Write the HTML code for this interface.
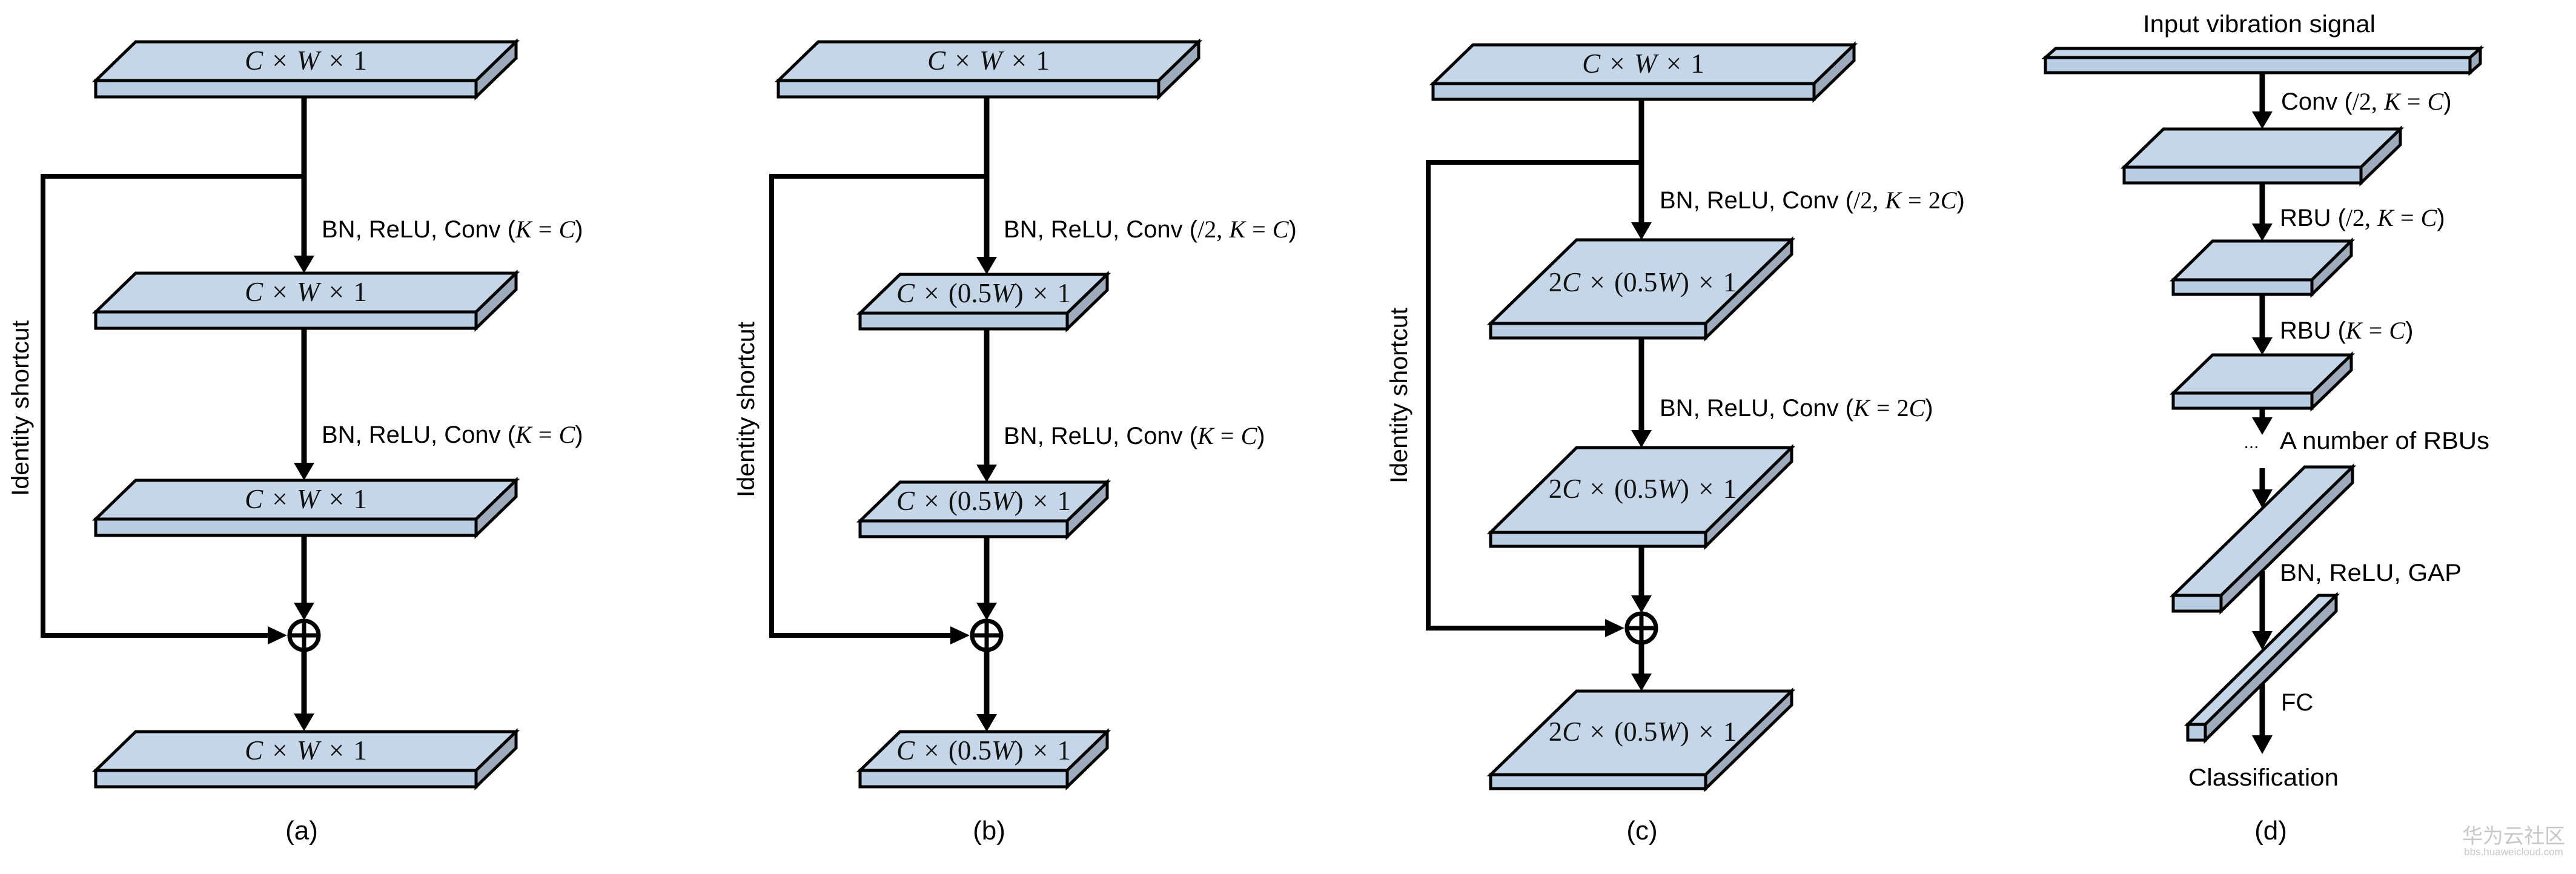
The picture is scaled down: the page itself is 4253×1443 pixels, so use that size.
<!DOCTYPE html>
<html><head><meta charset="utf-8">
<style>
html,body{margin:0;padding:0;background:#fff;}
svg{display:block;}
.t{font-family:"Liberation Sans",sans-serif;font-size:40px;fill:#000;}
.m{font-family:"Liberation Serif",serif;font-style:italic;}
.n{font-family:"Liberation Serif",serif;}
.bx{font-family:"Liberation Serif",serif;font-size:45px;fill:#111;word-spacing:4px;}
.top{fill:#c5d6e8;stroke:#000;stroke-width:5;stroke-linejoin:miter;}
.front{fill:#b9cde3;stroke:#000;stroke-width:5;}
.side{fill:#9eabbd;stroke:#000;stroke-width:5;stroke-linejoin:miter;}
.ln{stroke:#000;stroke-width:9;fill:none;}
.sc{stroke:#000;stroke-width:8;fill:none;stroke-linejoin:miter;}
</style></head>
<body>
<svg width="4253" height="1443" viewBox="0 0 4253 1443" xmlns="http://www.w3.org/2000/svg">

<!-- ===== Panel (a) ===== -->
<polyline class="sc" points="502,291 71,291 71,1049 450,1049"/>
<polygon points="474,1049 442,1034 442,1064" fill="#000"/>
<line class="ln" x1="502" y1="160" x2="502" y2="425"/>
<polygon points="502,451 485,422 519,422" fill="#000"/>
<line class="ln" x1="502" y1="543" x2="502" y2="767"/>
<polygon points="502,793 485,764 519,764" fill="#000"/>
<line class="ln" x1="502" y1="883" x2="502" y2="998"/>
<polygon points="502,1024 485,995 519,995" fill="#000"/>
<line class="ln" x1="502" y1="1076" x2="502" y2="1181"/>
<polygon points="502,1207 485,1178 519,1178" fill="#000"/>
<circle cx="502" cy="1049" r="24" fill="none" stroke="#000" stroke-width="7"/>
<line x1="502" y1="1025" x2="502" y2="1073" stroke="#000" stroke-width="7"/>
<line x1="478" y1="1049" x2="526" y2="1049" stroke="#000" stroke-width="7"/>
<g>
<polygon class="top" points="158,133 786,133 852,69 224,69"/><rect class="front" x="158" y="133" width="628" height="27"/><polygon class="side" points="786,133 852,69 852,96 786,160"/>
<text class="bx" x="505" y="115" text-anchor="middle"><tspan class="m">C</tspan> × <tspan class="m">W</tspan> × 1</text>
</g>
<g>
<polygon class="top" points="158,515 786,515 852,451 224,451"/><rect class="front" x="158" y="515" width="628" height="27"/><polygon class="side" points="786,515 852,451 852,478 786,542"/>
<text class="bx" x="505" y="497" text-anchor="middle"><tspan class="m">C</tspan> × <tspan class="m">W</tspan> × 1</text>
</g>
<g>
<polygon class="top" points="158,857 786,857 852,793 224,793"/><rect class="front" x="158" y="857" width="628" height="27"/><polygon class="side" points="786,857 852,793 852,820 786,884"/>
<text class="bx" x="505" y="839" text-anchor="middle"><tspan class="m">C</tspan> × <tspan class="m">W</tspan> × 1</text>
</g>
<g>
<polygon class="top" points="158,1272 786,1272 852,1208 224,1208"/><rect class="front" x="158" y="1272" width="628" height="27"/><polygon class="side" points="786,1272 852,1208 852,1235 786,1299"/>
<text class="bx" x="505" y="1254" text-anchor="middle"><tspan class="m">C</tspan> × <tspan class="m">W</tspan> × 1</text>
</g>
<text class="t" x="531" y="392">BN, ReLU, Conv (<tspan class="m">K</tspan>  <tspan class="n">=</tspan>  <tspan class="m">C</tspan>)</text>
<text class="t" x="531" y="731">BN, ReLU, Conv (<tspan class="m">K</tspan>  <tspan class="n">=</tspan>  <tspan class="m">C</tspan>)</text>
<text class="t" transform="translate(47,674) rotate(-90)" text-anchor="middle" textLength="290" lengthAdjust="spacingAndGlyphs">Identity shortcut</text>
<text class="t" x="498" y="1386" text-anchor="middle" style="font-size:44px">(a)</text>

<!-- ===== Panel (b) ===== -->
<polyline class="sc" points="1629,291 1274,291 1274,1049 1577,1049"/>
<polygon points="1601,1049 1569,1034 1569,1064" fill="#000"/>
<line class="ln" x1="1629" y1="161" x2="1629" y2="427"/>
<polygon points="1629,453 1612,424 1646,424" fill="#000"/>
<line class="ln" x1="1629" y1="543" x2="1629" y2="770"/>
<polygon points="1629,796 1612,767 1646,767" fill="#000"/>
<line class="ln" x1="1629" y1="886" x2="1629" y2="998"/>
<polygon points="1629,1024 1612,995 1646,995" fill="#000"/>
<line class="ln" x1="1629" y1="1076" x2="1629" y2="1182"/>
<polygon points="1629,1208 1612,1179 1646,1179" fill="#000"/>
<circle cx="1629" cy="1049" r="24" fill="none" stroke="#000" stroke-width="7"/>
<line x1="1629" y1="1025" x2="1629" y2="1073" stroke="#000" stroke-width="7"/>
<line x1="1605" y1="1049" x2="1653" y2="1049" stroke="#000" stroke-width="7"/>
<g>
<polygon class="top" points="1285,133 1913,133 1979,69 1351,69"/><rect class="front" x="1285" y="133" width="628" height="27"/><polygon class="side" points="1913,133 1979,69 1979,96 1913,160"/>
<text class="bx" x="1632" y="115" text-anchor="middle"><tspan class="m">C</tspan> × <tspan class="m">W</tspan> × 1</text>
</g>
<g>
<polygon class="top" points="1420,517 1762,517 1828,453 1486,453"/><rect class="front" x="1420" y="517" width="342" height="26"/><polygon class="side" points="1762,517 1828,453 1828,479 1762,543"/>
<text class="bx" x="1624" y="499" text-anchor="middle"><tspan class="m">C</tspan> × (0.5<tspan class="m">W</tspan>) × 1</text>
</g>
<g>
<polygon class="top" points="1420,860 1762,860 1828,796 1486,796"/><rect class="front" x="1420" y="860" width="342" height="26"/><polygon class="side" points="1762,860 1828,796 1828,822 1762,886"/>
<text class="bx" x="1624" y="842" text-anchor="middle"><tspan class="m">C</tspan> × (0.5<tspan class="m">W</tspan>) × 1</text>
</g>
<g>
<polygon class="top" points="1420,1272 1762,1272 1828,1208 1486,1208"/><rect class="front" x="1420" y="1272" width="342" height="27"/><polygon class="side" points="1762,1272 1828,1208 1828,1235 1762,1299"/>
<text class="bx" x="1624" y="1254" text-anchor="middle"><tspan class="m">C</tspan> × (0.5<tspan class="m">W</tspan>) × 1</text>
</g>
<text class="t" x="1657" y="392">BN, ReLU, Conv (<tspan class="n">/2,</tspan> <tspan class="m">K</tspan>  <tspan class="n">=</tspan>  <tspan class="m">C</tspan>)</text>
<text class="t" x="1657" y="733">BN, ReLU, Conv (<tspan class="m">K</tspan>  <tspan class="n">=</tspan>  <tspan class="m">C</tspan>)</text>
<text class="t" transform="translate(1245,676) rotate(-90)" text-anchor="middle" textLength="290" lengthAdjust="spacingAndGlyphs">Identity shortcut</text>
<text class="t" x="1633" y="1386" text-anchor="middle" style="font-size:44px">(b)</text>

<!-- ===== Panel (c) ===== -->
<polyline class="sc" points="2710,268 2358,268 2358,1037 2658,1037"/>
<polygon points="2682,1037 2650,1022 2650,1052" fill="#000"/>
<line class="ln" x1="2710" y1="164" x2="2710" y2="370"/>
<polygon points="2710,396 2693,367 2727,367" fill="#000"/>
<line class="ln" x1="2710" y1="558" x2="2710" y2="713"/>
<polygon points="2710,739 2693,710 2727,710" fill="#000"/>
<line class="ln" x1="2710" y1="902" x2="2710" y2="986"/>
<polygon points="2710,1012 2693,983 2727,983" fill="#000"/>
<line class="ln" x1="2710" y1="1064" x2="2710" y2="1115"/>
<polygon points="2710,1141 2693,1112 2727,1112" fill="#000"/>
<circle cx="2710" cy="1037" r="24" fill="none" stroke="#000" stroke-width="7"/>
<line x1="2710" y1="1013" x2="2710" y2="1061" stroke="#000" stroke-width="7"/>
<line x1="2686" y1="1037" x2="2734" y2="1037" stroke="#000" stroke-width="7"/>
<g>
<polygon class="top" points="2366,138 2995,138 3061,74 2432,74"/><rect class="front" x="2366" y="138" width="629" height="26"/><polygon class="side" points="2995,138 3061,74 3061,100 2995,164"/>
<text class="bx" x="2713" y="120" text-anchor="middle"><tspan class="m">C</tspan> × <tspan class="m">W</tspan> × 1</text>
</g>
<g>
<polygon class="top" points="2461,534 2816,534 2958,396 2603,396"/><rect class="front" x="2461" y="534" width="355" height="24"/><polygon class="side" points="2816,534 2958,396 2958,420 2816,558"/>
<text class="bx" x="2712" y="481" text-anchor="middle">2<tspan class="m">C</tspan> × (0.5<tspan class="m">W</tspan>) × 1</text>
</g>
<g>
<polygon class="top" points="2461,879 2816,879 2958,739 2603,739"/><rect class="front" x="2461" y="879" width="355" height="23"/><polygon class="side" points="2816,879 2958,739 2958,762 2816,902"/>
<text class="bx" x="2712" y="822" text-anchor="middle">2<tspan class="m">C</tspan> × (0.5<tspan class="m">W</tspan>) × 1</text>
</g>
<g>
<polygon class="top" points="2461,1279 2816,1279 2958,1141 2603,1141"/><rect class="front" x="2461" y="1279" width="355" height="23"/><polygon class="side" points="2816,1279 2958,1141 2958,1164 2816,1302"/>
<text class="bx" x="2712" y="1223" text-anchor="middle">2<tspan class="m">C</tspan> × (0.5<tspan class="m">W</tspan>) × 1</text>
</g>
<text class="t" x="2740" y="344">BN, ReLU, Conv (<tspan class="n">/2,</tspan> <tspan class="m">K</tspan>  <tspan class="n">=</tspan>  <tspan class="n">2</tspan><tspan class="m">C</tspan>)</text>
<text class="t" x="2740" y="687">BN, ReLU, Conv (<tspan class="m">K</tspan>  <tspan class="n">=</tspan>  <tspan class="n">2</tspan><tspan class="m">C</tspan>)</text>
<text class="t" transform="translate(2323,653) rotate(-90)" text-anchor="middle" textLength="290" lengthAdjust="spacingAndGlyphs">Identity shortcut</text>
<text class="t" x="2711" y="1386" text-anchor="middle" style="font-size:44px">(c)</text>

<!-- ===== Panel (d) ===== -->
<text class="t" x="3730" y="53" text-anchor="middle" textLength="384" lengthAdjust="spacingAndGlyphs">Input vibration signal</text>
<g>
<polygon class="top" points="3377,95 4078,95 4095,80 3394,80"/><rect class="front" x="3377" y="95" width="701" height="25"/><polygon class="side" points="4078,95 4095,80 4095,105 4078,120"/>
</g>
<line class="ln" x1="3735" y1="120" x2="3735" y2="187"/>
<polygon points="3735,213 3718,184 3752,184" fill="#000"/>
<g>
<polygon class="top" points="3507,276 3898,276 3963,213 3572,213"/><rect class="front" x="3507" y="276" width="391" height="26"/><polygon class="side" points="3898,276 3963,213 3963,239 3898,302"/>
</g>
<line class="ln" x1="3735" y1="302" x2="3735" y2="372"/>
<polygon points="3735,398 3718,369 3752,369" fill="#000"/>
<g>
<polygon class="top" points="3588,462 3817,462 3882,398 3653,398"/><rect class="front" x="3588" y="462" width="229" height="24"/><polygon class="side" points="3817,462 3882,398 3882,422 3817,486"/>
</g>
<line class="ln" x1="3735" y1="486" x2="3735" y2="560"/>
<polygon points="3735,586 3718,557 3752,557" fill="#000"/>
<g>
<polygon class="top" points="3588,649 3817,649 3882,586 3653,586"/><rect class="front" x="3588" y="649" width="229" height="25"/><polygon class="side" points="3817,649 3882,586 3882,611 3817,674"/>
</g>
<line class="ln" x1="3735" y1="674" x2="3735" y2="692"/>
<polygon points="3735,718 3718,689 3752,689" fill="#000"/>
<text class="t" x="3717" y="740" text-anchor="middle" style="font-size:30px">...</text>
<text class="t" x="3764" y="741" textLength="346" lengthAdjust="spacingAndGlyphs">A number of RBUs</text>
<g>
<polygon class="top" points="3588,983 3667,983 3884,771 3805,771"/><rect class="front" x="3588" y="983" width="79" height="26"/><polygon class="side" points="3667,983 3884,771 3884,797 3667,1009"/>
</g>
<line class="ln" x1="3735" y1="773" x2="3735" y2="812"/>
<polygon points="3735,839 3718,808 3752,808" fill="#000"/>
<g>
<polygon class="top" points="3612,1196 3641,1196 3857,983 3828,983"/><rect class="front" x="3612" y="1196" width="29" height="26"/><polygon class="side" points="3641,1196 3857,983 3857,1009 3641,1222"/>
</g>
<line class="ln" x1="3735" y1="943" x2="3735" y2="1046"/>
<polygon points="3735,1073 3718,1042 3752,1042" fill="#000"/>
<line class="ln" x1="3735" y1="1129" x2="3735" y2="1218"/>
<polygon points="3735,1245 3718,1214 3752,1214" fill="#000"/>
<text class="t" x="3766" y="181">Conv (<tspan class="n">/2,</tspan> <tspan class="m">K</tspan>  <tspan class="n">=</tspan>  <tspan class="m">C</tspan>)</text>
<text class="t" x="3764" y="373">RBU (<tspan class="n">/2,</tspan> <tspan class="m">K</tspan>  <tspan class="n">=</tspan>  <tspan class="m">C</tspan>)</text>
<text class="t" x="3764" y="559">RBU (<tspan class="m">K</tspan>  <tspan class="n">=</tspan>  <tspan class="m">C</tspan>)</text>
<text class="t" x="3764" y="959" textLength="300" lengthAdjust="spacingAndGlyphs">BN, ReLU, GAP</text>
<text class="t" x="3766" y="1173">FC</text>
<text class="t" x="3737" y="1297" text-anchor="middle" textLength="248" lengthAdjust="spacingAndGlyphs">Classification</text>
<text class="t" x="3749" y="1386" text-anchor="middle" style="font-size:44px">(d)</text>
<text x="4150" y="1392" text-anchor="middle" style="font-family:'Liberation Sans','Noto Sans CJK SC',sans-serif;font-size:34px;fill:#c8c8c8">华为云社区</text>
<text x="4150" y="1412" text-anchor="middle" style="font-family:'Liberation Sans',sans-serif;font-size:17px;fill:#c8c8c8">bbs.huaweicloud.com</text>
</svg>
</body></html>
